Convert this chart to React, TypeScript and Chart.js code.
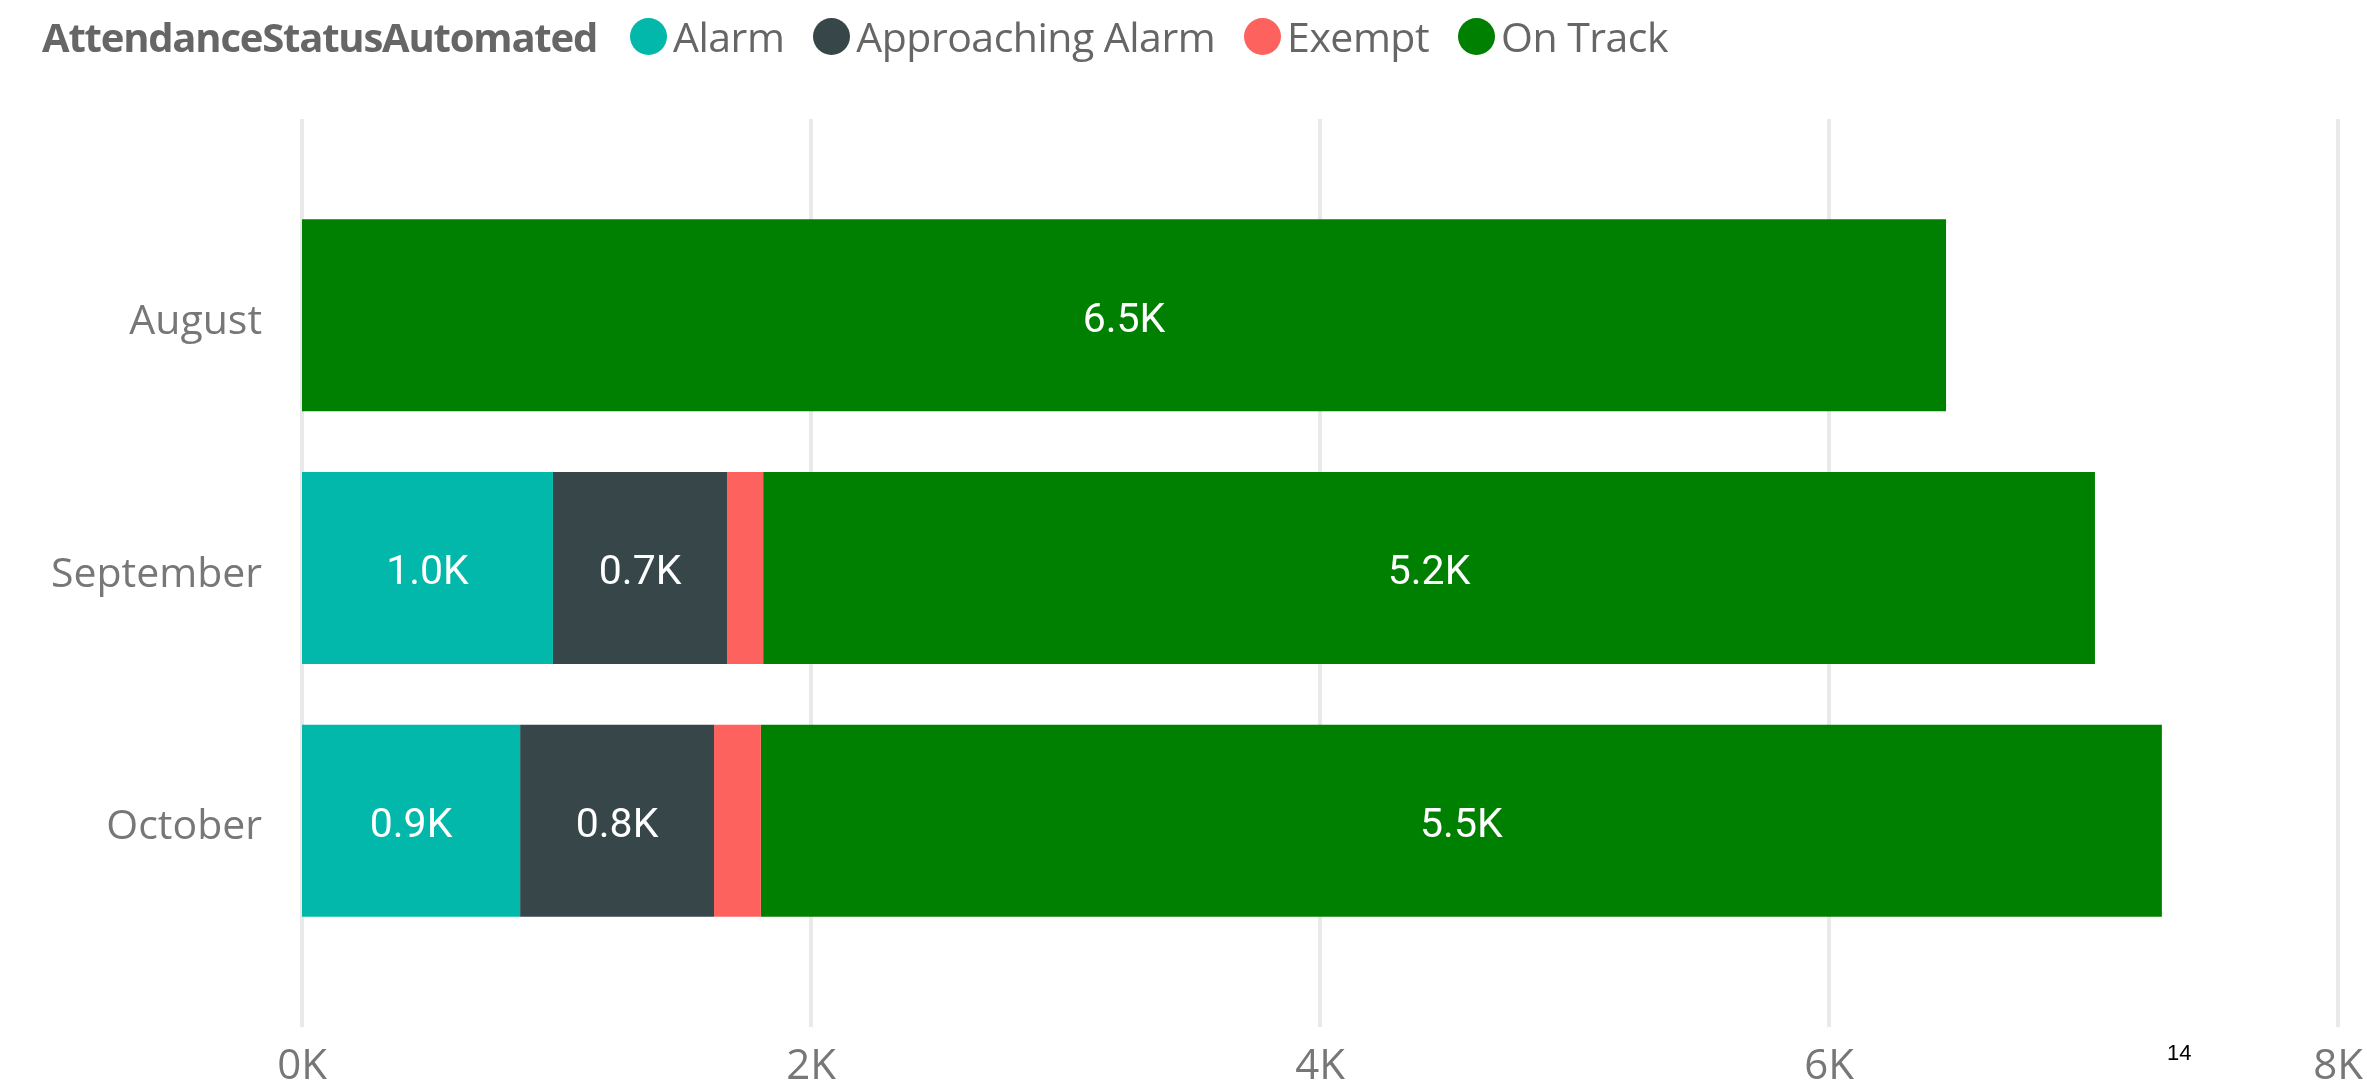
import React, { useEffect, useRef } from "react";
import { Chart, registerables } from "chart.js";

Chart.register(...registerables);

const months = ["August", "September", "October"];
const statuses = ["Alarm", "Approaching Alarm", "Exempt", "On Track"];
const alarm = [0, 986, 857];
const approachingAlarm = [0, 685, 762];
const exempt = [0, 141, 184];
const onTrack = [6460, 5233, 5505];
const xTicks = [0, 2000, 4000, 6000, 8000];
const legendTitle = "AttendanceStatusAutomated";
const cornerNote = "14";

const colors = ["#01B8AA", "#374649", "#FD625E", "#008000"];
const W = 2367;
const H = 1091;

const fmtK = (v: number) => (v / 1000).toFixed(1) + "K";

const gridPlugin = {
  id: "extendedGrid",
  beforeDatasetsDraw(chart: any) {
    const xs = chart.scales.x;
    const ctx = chart.ctx;
    const area = chart.chartArea;
    ctx.save();
    ctx.strokeStyle = "#E9E9E9";
    ctx.lineWidth = 4;
    xs.ticks.forEach((t: any) => {
      const px = xs.getPixelForValue(t.value);
      ctx.beginPath();
      ctx.moveTo(px, area.top - 70);
      ctx.lineTo(px, area.bottom + 80);
      ctx.stroke();
    });
    ctx.restore();
  },
};

const labelPlugin = {
  id: "segLabels",
  afterDatasetsDraw(chart: any) {
    const ctx = chart.ctx;
    ctx.save();
    ctx.font = "41px Roboto";
    ctx.fillStyle = "#FFFFFF";
    ctx.textAlign = "center";
    ctx.textBaseline = "middle";
    chart.data.datasets.forEach((ds: any, di: number) => {
      const meta = chart.getDatasetMeta(di);
      meta.data.forEach((el: any, i: number) => {
        const v = ds.data[i];
        if (!v) return;
        const txt = fmtK(v);
        const w = Math.abs(el.x - el.base);
        const tw = ctx.measureText(txt).width;
        if (w < tw + 20) return;
        ctx.fillText(txt, (el.x + el.base) / 2, el.y + 6);
      });
    });
    ctx.restore();
  },
};

export default function App() {
  const ref = useRef<HTMLCanvasElement | null>(null);

  useEffect(() => {
    document.body.style.margin = "0";
    if (!ref.current) return;
    const series = [alarm, approachingAlarm, exempt, onTrack];
    const chart = new Chart(ref.current, {
      type: "bar",
      data: {
        labels: months,
        datasets: statuses.map((s, i) => ({
          label: s,
          data: series[i],
          backgroundColor: colors[i],
          borderWidth: 0,
          categoryPercentage: 1,
          barPercentage: 0.76,
        })),
      },
      options: {
        indexAxis: "y",
        animation: false,
        responsive: false,
        devicePixelRatio: 1,
        layout: { padding: { top: 189, right: 29, left: 0, bottom: 0 } },
        plugins: {
          legend: { display: false },
          tooltip: { enabled: false },
        },
        scales: {
          x: {
            stacked: true,
            min: 0,
            max: 8000,
            afterBuildTicks: (s: any) => {
              s.ticks = xTicks.map((v) => ({ value: v }));
            },
            afterFit: (s: any) => {
              s.height = 144;
            },
            grid: { display: false, drawTicks: true, tickLength: 95 },
            border: { display: false },
            ticks: {
              padding: 0,
              color: "#777777",
              font: { family: "'Open Sans'", size: 42 },
              callback: (v: any) => Number(v) / 1000 + "K",
              maxRotation: 0,
            },
          },
          y: {
            stacked: true,
            afterFit: (s: any) => {
              s.width = 302;
            },
            grid: { display: false, drawTicks: false },
            border: { display: false },
            ticks: {
              padding: 40,
              labelOffset: 7,
              color: "#777777",
              font: { family: "'Open Sans'", size: 41 },
            },
          },
        },
      },
      plugins: [gridPlugin, labelPlugin],
    });
    return () => chart.destroy();
  }, []);

  return (
    <div
      style={{
        position: "absolute",
        left: 0,
        top: 0,
        width: W,
        height: H,
        background: "#fff",
        fontFamily: "'Open Sans', sans-serif",
      }}
    >
      <canvas ref={ref} width={W} height={H} style={{ position: "absolute", left: 0, top: 0, width: W, height: H }} />
      <div
        style={{
          position: "absolute",
          left: 42,
          top: 0,
          height: 72,
          display: "flex",
          alignItems: "center",
          whiteSpace: "nowrap",
          fontSize: 41,
          color: "#666666",
        }}
      >
        <span style={{ fontWeight: 700, fontSize: 40, letterSpacing: -1.2, marginRight: 33 }}>{legendTitle}</span>
        {statuses.map((s, i) => (
          <span key={s} style={{ display: "flex", alignItems: "center", marginRight: 29 }}>
            <span
              style={{
                width: 37,
                height: 37,
                borderRadius: "50%",
                background: colors[i],
                display: "inline-block",
                marginRight: 6,
              }}
            />
            <span style={{ letterSpacing: -0.5 }}>{s}</span>
          </span>
        ))}
      </div>
      <div
        style={{
          position: "absolute",
          left: 2167,
          top: 1042,
          fontFamily: "'Liberation Sans', Arial, sans-serif",
          fontSize: 22,
          lineHeight: 1,
          color: "#000",
        }}
      >
        {cornerNote}
      </div>
    </div>
  );
}
